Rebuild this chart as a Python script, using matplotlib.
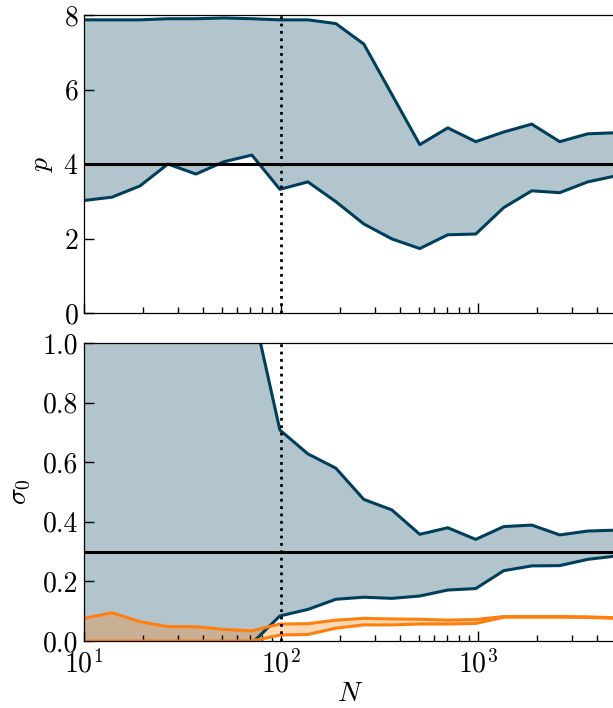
import numpy as np
import matplotlib
matplotlib.use("Agg")
import matplotlib.pyplot as plt

plt.rcParams['font.family'] = 'serif'
plt.rcParams['font.serif'] = ['cmr10']
plt.rcParams['mathtext.fontset'] = 'cm'
plt.rcParams['axes.formatter.use_mathtext'] = True
plt.rcParams['axes.unicode_minus'] = False

# Sample sizes N
N = [10, 13.87, 19.23, 26.67, 36.99, 51.31, 71.16, 98.69, 136.9, 189.8,
     263.3, 365.2, 506.4, 702.4, 974.2, 1351, 1874, 2599, 3605, 5000]

# Top panel: p interval
p_upper = [7.87, 7.87, 7.87, 7.90, 7.90, 7.92, 7.90, 7.87, 7.87, 7.77,
           7.22, 5.87, 4.52, 4.97, 4.60, 4.86, 5.07, 4.60, 4.81, 4.84]
p_lower = [3.02, 3.11, 3.41, 4.00, 3.73, 4.06, 4.24, 3.32, 3.52, 2.99,
           2.39, 1.99, 1.73, 2.10, 2.12, 2.83, 3.28, 3.23, 3.52, 3.68]
p_true = 4.0

# Bottom panel: sigma_0 interval (blue)
s_upper = [3.0, 2.6, 2.2, 1.9, 1.6, 1.35, 1.13, 0.708, 0.628, 0.580,
           0.475, 0.440, 0.358, 0.380, 0.341, 0.384, 0.389, 0.356, 0.369, 0.372]
s_lower = [-0.10, -0.09, -0.08, -0.07, -0.06, -0.04, -0.008, 0.084, 0.106, 0.140,
           0.147, 0.143, 0.151, 0.171, 0.176, 0.236, 0.252, 0.253, 0.274, 0.285]
# Bottom panel: second interval (orange)
o_upper = [0.076, 0.095, 0.065, 0.048, 0.048, 0.039, 0.034, 0.057, 0.058, 0.070,
           0.076, 0.074, 0.073, 0.070, 0.072, 0.082, 0.082, 0.082, 0.081, 0.078]
o_lower = [0.0, 0.0, 0.0, 0.0, 0.0, 0.0, 0.0, 0.020, 0.022, 0.043,
           0.054, 0.054, 0.057, 0.057, 0.059, 0.080, 0.080, 0.080, 0.079, 0.076]
s_true = 0.3

N_mark = 100

BLUE = '#003f5c'
ORANGE = '#ff7f0e'
FS = 20

W, H = 613, 708
fig = plt.figure(figsize=(W / 100, H / 100), dpi=100)
left = 84 / W
right = 615.7 / W
ax1 = fig.add_axes([left, 1 - 313 / H, right - left, (313 - 15) / H])
ax2 = fig.add_axes([left, 1 - 641 / H, right - left, (641 - 343) / H], sharex=ax1)

# top
ax1.fill_between(N, p_lower, p_upper, color=BLUE, alpha=0.3, lw=0)
ax1.plot(N, p_upper, color=BLUE, lw=2.2)
ax1.plot(N, p_lower, color=BLUE, lw=2.2)
ax1.axhline(p_true, color='black', lw=2.2)
ax1.axvline(N_mark, color='black', lw=2, ls=':')
ax1.set_ylim(0, 8)
ax1.set_yticks([0, 2, 4, 6, 8])
ax1.set_ylabel(r'$p$', fontsize=FS, labelpad=6)

# bottom
ax2.fill_between(N, s_lower, s_upper, color=BLUE, alpha=0.3, lw=0)
ax2.plot(N, s_upper, color=BLUE, lw=2.2)
ax2.plot(N, s_lower, color=BLUE, lw=2.2)
ax2.fill_between(N, o_lower, o_upper, color=ORANGE, alpha=0.3, lw=0)
ax2.plot(N, o_upper, color=ORANGE, lw=2.2)
ax2.plot(N, o_lower, color=ORANGE, lw=2.2)
ax2.axhline(s_true, color='black', lw=2.2)
ax2.axvline(N_mark, color='black', lw=2, ls=':')
ax2.set_ylim(0, 1)
ax2.set_yticks([0.0, 0.2, 0.4, 0.6, 0.8, 1.0])
ax2.set_yticklabels(['0.0', '0.2', '0.4', '0.6', '0.8', '1.0'])
ax2.set_ylabel(r'$\sigma_0$', fontsize=FS, labelpad=7)
ax2.set_xlabel(r'$N$', fontsize=FS, labelpad=2)

ax2.set_xscale('log')
ax2.set_xlim(10, 5000)

for ax in (ax1, ax2):
    ax.tick_params(which='both', direction='in', labelsize=FS, top=False, right=False)
    ax.tick_params(which='major', length=7, width=1, pad=4)
    ax.tick_params(which='minor', length=4, width=1)
    for s in ax.spines.values():
        s.set_linewidth(0.9)
ax2.tick_params(axis='x', which='major', pad=6)
plt.setp(ax1.get_xticklabels(), visible=False)

fig.savefig('out.png', dpi=100)
